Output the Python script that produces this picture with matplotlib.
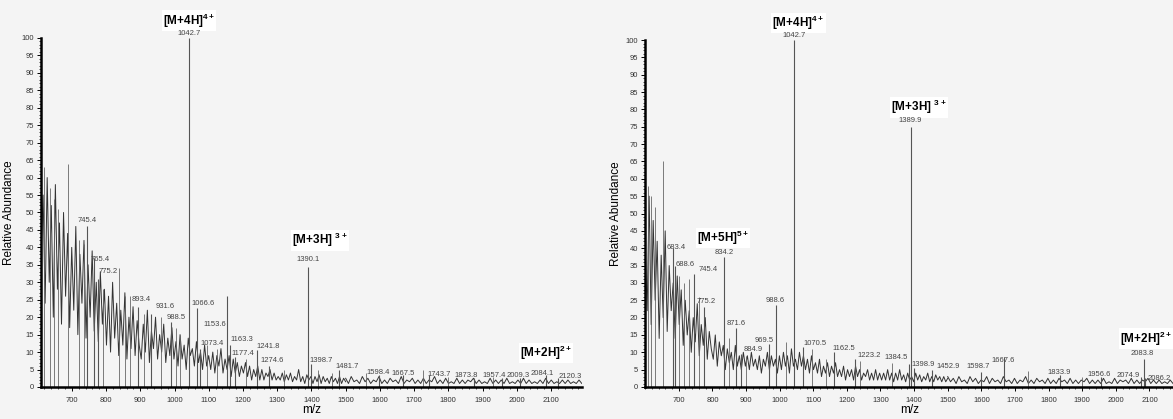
import numpy as np
import matplotlib
matplotlib.use("Agg")
import matplotlib.pyplot as plt
from matplotlib.ticker import MultipleLocator

plt.rcParams['font.family'] = ['Liberation Sans', 'DejaVu Sans']
plt.rcParams['mathtext.fontset'] = 'custom'
plt.rcParams['mathtext.rm'] = 'Liberation Sans'
plt.rcParams['mathtext.bf'] = 'Liberation Sans:bold'

# ---------------- left spectrum ----------------
left_main = [38, 55, 24, 60, 30, 52, 20, 58, 28, 47, 18, 50, 26, 44, 17,
             40, 22, 46, 15, 38, 24, 42, 14, 35, 20, 39, 16, 30, 13, 33, 18, 28,
             12, 26, 10, 30, 14, 24, 9, 22, 12, 27, 8, 20, 11, 23, 9, 19, 12,
             8, 18, 10, 22, 7, 16, 11, 20, 8, 15, 10, 18, 7, 14, 9, 17, 8,
             13, 6, 15, 8, 12, 5, 14, 9, 11, 6, 13, 7, 10, 5, 12, 6, 9,
             5, 10, 4, 9, 6, 11, 4, 8, 5, 9, 3, 8, 4, 7, 3, 6, 4,
             7, 3, 6, 2, 5, 3, 6, 2, 5, 2, 4, 3, 5, 2, 4, 2, 3,
             2, 4, 1.5, 3.5, 2, 4, 1.5, 3, 2, 5, 1.5, 3, 1, 3.5, 2, 3, 1,
             3, 1.5, 3.5, 1, 3, 1.5, 2.5, 1, 3, 1.5, 2.5, 1, 3, 1, 2.5, 1.5]
left_tail = [2.5, 1, 3, 1.5, 2, 1, 3, 1.5, 2.5, 1, 2, 1.5, 3, 1, 2, 1, 2.5, 1.5,
             2, 1, 3, 1, 2, 1.5, 2.5, 1, 2, 1, 2.5, 1, 2, 1.5, 3, 1, 2, 1, 2.5,
             1, 1.5, 1, 2.5, 1, 2, 1, 2, 1.5, 2.5, 1, 2, 1, 1.5, 1, 2.5, 1, 2,
             1, 2, 1, 2.5, 1, 1.5, 1, 2, 1, 2.5, 1, 2, 1, 1.5, 1, 2, 1, 2.5, 1,
             2, 1, 1.5, 1, 2, 1, 2, 1, 1.5, 1, 2, 1]
left_stick_mz = [619, 636, 648, 659, 688, 722, 735, 790, 837, 855, 870, 912, 960,
                 1003, 1015, 1095, 1125, 1210, 1320, 1420, 1460, 1560, 1726, 1800, 1930]
left_stick_h = [63, 57, 54, 51, 64, 42, 41, 28, 34, 26, 26, 21, 20,
                17, 15, 12, 11, 8, 5, 5, 4, 4, 5, 3, 3]
left_peak_mz = [745.4, 765.4, 775.2, 893.4, 931.6, 988.5, 1042.7, 1066.6, 1073.4,
                1153.6, 1163.3, 1177.4, 1241.8, 1274.6, 1390.1, 1398.7, 1481.7,
                1598.4, 1667.5, 1743.7, 1873.8, 1957.4, 2009.3, 2084.1, 2120.3]
left_peak_h = [46, 37, 31, 23, 21, 18.5, 100, 22.5, 11, 26, 12, 8.5, 10.5, 6,
               34.4, 6.5, 5, 3.5, 3.5, 3.5, 2.5, 2.5, 2.5, 3.5, 2.5]
left_lab_x = [745, 782, 805, 904, 972, 1006, 1042.7, 1083, 1111, 1118, 1196, 1201,
              1273, 1284, 1390, 1427, 1503, 1595, 1667, 1773, 1852, 1934, 2003, 2074, 2156]
left_lab_y = [47.8, 36.5, 33, 25, 23, 20, 101.3, 23.8, 12.6, 18, 13.5, 9.7, 11.7,
              7.5, 36.4, 7.7, 5.8, 4.2, 3.9, 3.6, 3.2, 3.3, 3.4, 4.0, 2.9]
left_ions = [r"[M+4H]$^{\mathbf{4+}}$", r"[M+3H] $^{\mathbf{3+}}$", r"[M+2H]$^{\mathbf{2+}}$"]
left_ion_x = [1042.7, 1425, 2086]
left_ion_y = [105, 42, 9.7]

# ---------------- right spectrum ----------------
right_main = [40, 22, 55, 18, 48, 25, 42, 14, 38, 20, 45, 16, 35, 22, 30, 14, 32,
              18, 28, 12, 25, 15, 22, 10, 20, 13, 24, 9, 18, 12, 20, 8, 16, 11,
              8, 15, 6, 13, 9, 12, 5, 11, 7, 10, 5, 12, 6, 9, 5, 10, 6,
              9, 5, 10, 6, 8, 5, 9, 4, 8, 6, 10, 5, 9, 6, 8, 4, 9,
              5, 10, 6, 9, 4, 11, 6, 8, 5, 10, 6, 9, 5, 8, 4, 9, 5,
              7, 4, 8, 3, 6, 4, 7, 3, 6, 4, 7, 3, 5, 3, 6, 2, 5,
              3, 5, 2, 6, 3, 5, 2, 4, 3, 5, 2, 4, 2, 5, 2, 4, 2,
              4, 2, 5, 2, 4, 1.5, 4, 2, 5, 2, 3.5, 1.5, 4, 2, 3, 1.5, 4,
              2, 3.5, 1.5, 3, 2, 4, 1.5, 3, 1.5, 3.5, 2, 3, 1.5, 3, 1.5, 2.5]
right_tail = [3, 1.5, 2.5, 1, 3, 1.5, 2, 1, 3, 1.5, 2.5, 1, 2, 1.5, 3, 1, 2.5, 1.5,
              2, 1, 3, 1.5, 2, 1, 2.5, 1, 2, 1.5, 3, 1, 2, 1, 2.5, 1.5, 2, 1, 2.5,
              1, 2, 1, 2.5, 1.5, 2, 1, 2.5, 1, 2, 1, 2, 1.5, 2.5, 1, 2, 1, 2, 1,
              2.5, 1, 1.5, 1, 2.5, 1, 2, 1.5, 2, 1, 2.5, 1, 2, 1, 2, 1.5, 2.5, 1,
              2, 1, 2, 1, 1.5, 1, 2, 1]
right_stick_mz = [608, 618, 630, 652, 700, 716, 730, 760, 850, 900, 1020, 1095,
                  1138, 1239, 1335, 1740, 1900]
right_stick_h = [58, 55, 52, 65, 32, 30, 31, 26, 14, 9, 13, 11, 8, 7.5, 7, 4.5, 3]
right_peak_mz = [683.4, 688.6, 745.4, 775.2, 834.2, 871.6, 884.9, 969.5, 988.6,
                 1042.7, 1070.5, 1162.5, 1223.2, 1384.5, 1389.9, 1398.9, 1452.9,
                 1598.7, 1667.6, 1833.9, 1956.6, 2074.9, 2083.8, 2086.2]
right_peak_h = [40, 35, 32.6, 23, 37.4, 17, 9.5, 12.4, 23.6, 100, 11.5, 10.2, 8,
                6.5, 75, 5.5, 5, 4.4, 8.5, 3.5, 3, 2.8, 8.2, 2.5]
right_lab_x = [691, 718, 786, 781, 835, 871.5, 920, 953, 987, 1042.7, 1105, 1191,
               1265, 1347, 1389, 1427, 1501, 1591, 1664, 1830, 1949, 2037, 2078, 2128]
right_lab_y = [40.2, 35.4, 33.9, 24.6, 38.8, 18.2, 10.9, 13.5, 25, 101.2, 12.4,
               11.2, 9.2, 8.6, 76.9, 6.6, 5.9, 5.9, 7.6, 4.1, 3.5, 3.2, 9.7, 2.5]
right_ions = [r"[M+4H]$^{\mathbf{4+}}$", r"[M+5H]$^{\mathbf{5+}}$",
              r"[M+3H] $^{\mathbf{3+}}$", r"[M+2H]$^{\mathbf{2+}}$"]
right_ion_x = [1056, 832, 1415, 2091]
right_ion_y = [105, 43, 80.6, 14]

bg = '#f4f4f4'
fig = plt.figure(figsize=(11.73, 4.19), dpi=100, facecolor=bg)
ax1 = fig.add_axes([0.035, 0.0764, 0.461, 0.833])
ax2 = fig.add_axes([0.55, 0.0764, 0.45, 0.828])


def draw_panel(ax, main, tail, x0, x1, smz, sh, pmz, ph, lx, ly, labels, ion_txt, ion_x, ion_y):
    ax.set_facecolor(bg)
    mz_main = np.linspace(x0, 1500, len(main))
    mz_tail = np.linspace(1500, x1, len(tail))
    ax.plot(mz_main, main, color='#333333', lw=0.7)
    ax.plot(mz_tail, tail, color='#333333', lw=0.7)
    ax.vlines(smz, 0, sh, color='#666666', lw=0.6)
    ax.vlines(pmz, 0, ph, color='#555555', lw=0.8)
    for t, x, y in zip(ion_txt, ion_x, ion_y):
        ax.text(x, y, t, fontsize=8.5, fontweight='bold', ha='center', va='center',
                clip_on=False, zorder=4, bbox=dict(fc='white', ec='none', pad=0.8))
    for x, y, t in zip(lx, ly, labels):
        ax.text(x, y, t, fontsize=5.5, color='#444444', ha='center', va='center',
                clip_on=False, zorder=5)
    ax.set_xlim(x0, x1)
    ax.set_ylim(0, 100)
    for s in ['top', 'right']:
        ax.spines[s].set_visible(False)
    ax.spines['left'].set_linewidth(1.8)
    ax.spines['bottom'].set_linewidth(1.8)
    ax.yaxis.set_major_locator(MultipleLocator(5))
    ax.yaxis.set_minor_locator(MultipleLocator(1))
    ax.xaxis.set_minor_locator(MultipleLocator(20))
    ax.set_xticks([t for t in range(700, 2200, 100) if t < x1])
    ax.tick_params(which='major', length=3, width=0.7, labelsize=5.5, labelcolor='#333333', pad=2)
    ax.tick_params(which='minor', length=1.5, width=0.5)
    ax.tick_params(axis='x', which='major', pad=4)
    ax.set_ylabel('Relative Abundance', fontsize=8.5)
    ax.set_xlabel('m/z', fontsize=8.5)


draw_panel(ax1, left_main, left_tail, 610, 2190, left_stick_mz, left_stick_h,
           left_peak_mz, left_peak_h, left_lab_x, left_lab_y,
           [str(v) for v in left_peak_mz], left_ions, left_ion_x, left_ion_y)
draw_panel(ax2, right_main, right_tail, 600, 2170, right_stick_mz, right_stick_h,
           right_peak_mz, right_peak_h, right_lab_x, right_lab_y,
           [str(v) for v in right_peak_mz], right_ions, right_ion_x, right_ion_y)

ax1.yaxis.set_label_coords(-0.048, 0.5)
ax1.xaxis.set_label_coords(0.50, -0.05)
ax2.yaxis.set_label_coords(-0.044, 0.5)
ax2.xaxis.set_label_coords(0.502, -0.05)

fig.savefig('out.png', dpi=100, facecolor=bg)
